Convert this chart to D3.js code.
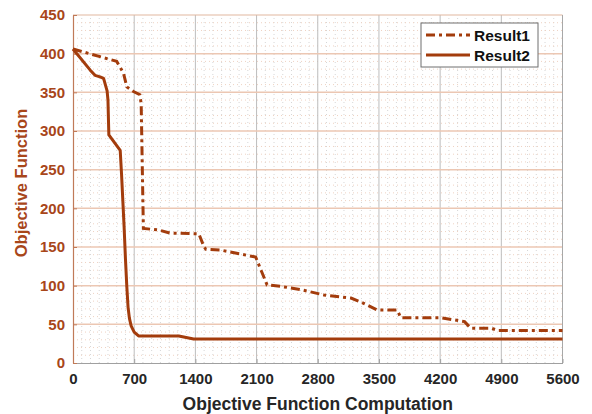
<!DOCTYPE html>
<html>
<head>
<meta charset="utf-8">
<script src="https://cdn.jsdelivr.net/npm/d3@7"></script>
<style>
  html, body { margin: 0; padding: 0; background: #fff; }
  svg { display: block; }
  text { font-family: "Liberation Sans", Arial, sans-serif; font-weight: bold; }
</style>
</head>
<body>
<svg id="chart" width="592" height="414"></svg>
<script>
// Objective function value against number of function evaluations
const result1X = [0, 500, 577, 616, 692, 765, 780, 805, 980, 1110, 1440, 1500, 1520, 1690, 2090, 2155, 2220, 2380, 2600, 2870, 3180, 3290, 3480, 3710, 3750, 4210, 4480, 4550, 4785, 4860, 5600];
const result1Y = [406, 390, 375, 357, 351, 347, 335, 174, 172, 168, 167, 150, 147, 146, 137, 119, 101, 99, 95, 88, 84, 79, 68.5, 68.5, 58.5, 58.5, 53.5, 45, 45, 42, 42];

const result2X = [0, 195, 252, 310, 350, 390, 400, 410, 540, 555, 570, 585, 600, 615, 630, 645, 665, 700, 750, 1210, 1380, 5600];
const result2Y = [406, 379, 372, 370, 368, 352, 340, 295, 275, 245, 210, 175, 135, 100, 72, 58, 48, 40, 35, 35, 31, 31];

const xTicks = [0, 700, 1400, 2100, 2800, 3500, 4200, 4900, 5600];
const yTicks = [0, 50, 100, 150, 200, 250, 300, 350, 400, 450];
const seriesNames = ["Result1", "Result2"];

const lineColor = "#a33c0c";
const yAxisColor = "#a8461a";

const svg = d3.select("#chart");
const margin = { left: 73, right: 30, top: 15, bottom: 51 };
const W = 592, H = 414;

const x = d3.scaleLinear().domain([0, 5600]).range([margin.left, W - margin.right + 0.5]);
const y = d3.scaleLinear().domain([0, 450]).range([H - margin.bottom, margin.top]);

const g = svg.append("g");

// minor grid
const xMinor = d3.range(0, 5601, 100).filter(v => v % 700 !== 0);
const yMinor = d3.range(0, 451, 10).filter(v => v % 50 !== 0);
g.selectAll(".xminor").data(xMinor).enter().append("line")
  .attr("x1", d => x(d)).attr("x2", d => x(d))
  .attr("y1", y(0)).attr("y2", y(450))
  .attr("stroke", "#d6d6d6").attr("stroke-width", 1)
  .attr("stroke-dasharray", "1,3");
g.selectAll(".yminor").data(yMinor).enter().append("line")
  .attr("x1", x(0)).attr("x2", x(5600))
  .attr("y1", d => y(d)).attr("y2", d => y(d))
  .attr("stroke", "#efd2c2").attr("stroke-width", 1)
  .attr("stroke-dasharray", "1,3");

// major grid
g.selectAll(".xmajor").data(xTicks.slice(1, -1)).enter().append("line")
  .attr("x1", d => x(d)).attr("x2", d => x(d))
  .attr("y1", y(0)).attr("y2", y(450))
  .attr("stroke", "#bdbdbd").attr("stroke-width", 1);
g.selectAll(".ymajor").data(yTicks.slice(1, -1)).enter().append("line")
  .attr("x1", x(0)).attr("x2", x(5600))
  .attr("y1", d => y(d)).attr("y2", d => y(d))
  .attr("stroke", "#ecc7b3").attr("stroke-width", 1.5);

// frame
svg.append("line").attr("x1", x(0)).attr("x2", x(5600)).attr("y1", y(450)).attr("y2", y(450))
  .attr("stroke", "#e2b8a0").attr("stroke-width", 1.2);
svg.append("line").attr("x1", x(5600)).attr("x2", x(5600)).attr("y1", y(0)).attr("y2", y(450))
  .attr("stroke", "#a8a8a8").attr("stroke-width", 1);

// x axis
const xAxis = svg.append("g").attr("transform", `translate(0,${y(0)})`)
  .call(d3.axisBottom(x).tickValues(xTicks).tickFormat(d3.format("d")).tickSizeInner(-4).tickSizeOuter(0).tickPadding(10));
xAxis.select(".domain").attr("stroke", "#a0a0a0");
xAxis.selectAll(".tick line").attr("stroke", "#a0a0a0");
xAxis.selectAll("text").attr("fill", "#262626").attr("font-size", 15).attr("font-weight", "bold")
  .attr("font-family", "Liberation Sans, Arial, sans-serif");

// y axis
const yAxis = svg.append("g").attr("transform", `translate(${x(0)},0)`)
  .call(d3.axisLeft(y).tickValues(yTicks).tickSizeInner(-4).tickSizeOuter(0).tickPadding(8));
yAxis.select(".domain").attr("stroke", "#c07a58").attr("stroke-width", 1.2);
yAxis.selectAll(".tick line").attr("stroke", "#c07a58");
yAxis.selectAll("text").attr("fill", yAxisColor).attr("font-size", 15).attr("font-weight", "bold")
  .attr("font-family", "Liberation Sans, Arial, sans-serif");

// axis titles
svg.append("text").attr("x", (x(0) + x(5600)) / 2).attr("y", 410)
  .attr("text-anchor", "middle").attr("font-size", 17.5).attr("fill", "#262626")
  .text("Objective Function Computation");
svg.append("text").attr("transform", `translate(27,${(y(0) + y(450)) / 2 - 6}) rotate(-90)`)
  .attr("text-anchor", "middle").attr("font-size", 16.5).attr("fill", yAxisColor)
  .text("Objective Function");

// series
const line = d3.line().x(d => x(d[0])).y(d => y(d[1]));
const data1 = result1X.map((v, i) => [v, result1Y[i]]);
const data2 = result2X.map((v, i) => [v, result2Y[i]]);

svg.append("path").datum(data1).attr("d", line)
  .attr("fill", "none").attr("stroke", lineColor).attr("stroke-width", 3)
  .attr("stroke-dasharray", "9,4,3,4");
svg.append("path").datum(data2).attr("d", line)
  .attr("fill", "none").attr("stroke", lineColor).attr("stroke-width", 3)
  .attr("stroke-linejoin", "round");

// legend
const lg = svg.append("g").attr("transform", "translate(421,23)");
lg.append("rect").attr("width", 117).attr("height", 44)
  .attr("fill", "#fff").attr("stroke", "#6e6e6e").attr("stroke-width", 1);
seriesNames.forEach((name, i) => {
  const yy = 12 + i * 20;
  lg.append("line").attr("x1", 5).attr("x2", 49).attr("y1", yy).attr("y2", yy)
    .attr("stroke", lineColor).attr("stroke-width", 3)
    .attr("stroke-dasharray", i === 0 ? "9,4,3,4" : null);
  lg.append("text").attr("x", 53).attr("y", yy + 5.5)
    .attr("font-size", 15.5).attr("fill", "#111").text(name);
});
</script>
</body>
</html>
